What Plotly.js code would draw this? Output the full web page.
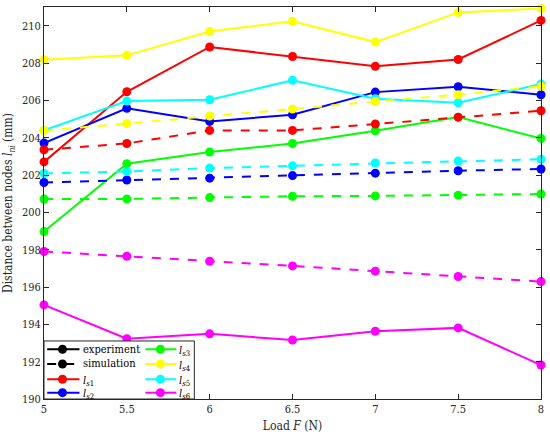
<!DOCTYPE html>
<html>
<head>
<meta charset="utf-8">
<script src="https://cdn.plot.ly/plotly-3.0.1.min.js"></script>
<style>html,body{margin:0;padding:0;background:#fff;}#chart{width:550px;height:438px;}</style>
</head>
<body>
<div id="chart"></div>
<script>
const loads = [5, 5.5, 6, 6.5, 7, 7.5, 8];

const expLs1 = [202.70, 206.46, 208.86, 208.35, 207.82, 208.19, 210.28];
const expLs2 = [203.71, 205.57, 204.87, 205.23, 206.44, 206.73, 206.30];
const expLs3 = [198.97, 202.60, 203.23, 203.69, 204.37, 205.10, 203.96];
const expLs4 = [208.18, 208.41, 209.69, 210.23, 209.12, 210.71, 210.92];
const expLs5 = [204.39, 205.96, 206.03, 207.07, 206.09, 205.87, 206.87];
const expLs6 = [195.04, 193.23, 193.49, 193.16, 193.63, 193.81, 191.82];

const simLs1 = [203.35, 203.69, 204.39, 204.39, 204.73, 205.10, 205.44];
const simLs2 = [201.60, 201.73, 201.83, 201.97, 202.10, 202.23, 202.32];
const simLs3 = [200.71, 200.72, 200.79, 200.86, 200.88, 200.92, 200.98];
const simLs4 = [204.39, 204.75, 205.16, 205.53, 205.94, 206.30, 206.75];
const simLs5 = [202.08, 202.19, 202.37, 202.49, 202.64, 202.75, 202.85];
const simLs6 = [197.90, 197.65, 197.38, 197.13, 196.85, 196.56, 196.29];

const seriesNames = ['<i>l</i><sub><i>s</i>1</sub>', '<i>l</i><sub><i>s</i>2</sub>', '<i>l</i><sub><i>s</i>3</sub>',
                     '<i>l</i><sub><i>s</i>4</sub>', '<i>l</i><sub><i>s</i>5</sub>', '<i>l</i><sub><i>s</i>6</sub>'];
const seriesColors = ['#ff0000', '#0000ff', '#00ff00', '#ffff00', '#00ffff', '#ff00ff'];
const expData = [expLs1, expLs2, expLs3, expLs4, expLs5, expLs6];
const simData = [simLs1, simLs2, simLs3, simLs4, simLs5, simLs6];

const yTicks = [190, 192, 194, 196, 198, 200, 202, 204, 206, 208, 210];
const xTicks = [5, 5.5, 6, 6.5, 7, 7.5, 8];
const xTickText = ['5', '5.5', '6', '6.5', '7', '7.5', '8'];

const legendLabels = ['experiment', 'simulation', seriesNames[0], seriesNames[1],
                      seriesNames[2], seriesNames[3], seriesNames[4], seriesNames[5]];
const legendColors = ['#000000', '#000000', seriesColors[0], seriesColors[1],
                      seriesColors[2], seriesColors[3], seriesColors[4], seriesColors[5]];
const legendDashes = ['solid', 'dash', 'solid', 'solid', 'solid', 'solid', 'solid', 'solid'];

const MS = 9, LW = 2;
const traces = [];
for (let i = 0; i < 6; i++) {
  traces.push({x: loads, y: expData[i], type: 'scatter', mode: 'lines+markers', name: seriesNames[i],
    line: {color: seriesColors[i], width: LW}, marker: {color: seriesColors[i], size: MS},
    cliponaxis: false, showlegend: false});
}
for (let i = 0; i < 6; i++) {
  traces.push({x: loads, y: simData[i], type: 'scatter', mode: 'lines+markers', name: seriesNames[i],
    line: {color: seriesColors[i], width: LW, dash: 'dash'}, marker: {color: seriesColors[i], size: MS},
    cliponaxis: false, showlegend: false});
}

const FONT = '"DejaVu Serif Condensed", "DejaVu Serif", serif';
const axisCommon = {
  showgrid: false, zeroline: false, showline: true, linecolor: '#262626', linewidth: 1,
  mirror: 'ticks', ticks: 'inside', ticklen: 5, tickcolor: '#262626',
  tickfont: {family: FONT, size: 11, color: '#262626'}
};

// custom legend (layout decoration) in paper coordinates
const plotW = 497.5, plotH = 392;
const rowY = [0.1268, 0.0893, 0.0503, 0.0161];
const colLineX0 = [0.0064, 0.204], colLineX1 = [0.0714, 0.2663], colMarkX = [0.0372, 0.2342], colTextX = [0.0768, 0.2704];
const rx = 4.5 / plotW, ry = 4.5 / plotH;
const shapes = [{type: 'rect', xref: 'paper', yref: 'paper', x0: 0, x1: 0.3025, y0: 0, y1: 0.148,
  fillcolor: '#fff', line: {color: '#262626', width: 1}, layer: 'above'}];
const annotations = [];
for (let k = 0; k < legendLabels.length; k++) {
  const c = k < 4 ? 0 : 1, r = k % 4;
  shapes.push({type: 'line', xref: 'paper', yref: 'paper', x0: colLineX0[c], x1: colLineX1[c], y0: rowY[r], y1: rowY[r],
    line: {color: legendColors[k], width: LW, dash: legendDashes[k]}, layer: 'above'});
  shapes.push({type: 'circle', xref: 'paper', yref: 'paper', x0: colMarkX[c] - rx, x1: colMarkX[c] + rx,
    y0: rowY[r] - ry, y1: rowY[r] + ry, fillcolor: legendColors[k], line: {width: 0}, layer: 'above'});
  annotations.push({xref: 'paper', yref: 'paper', x: colTextX[c], y: rowY[r] - (k >= 2 ? 0.004 : 0), xanchor: 'left', yanchor: 'middle',
    text: legendLabels[k], showarrow: false, font: {family: FONT, size: 11, color: '#000'}, borderpad: 0});
}

const layout = {
  width: 550, height: 438,
  margin: {l: 43.5, r: 9, t: 7, b: 39},
  paper_bgcolor: '#fff', plot_bgcolor: '#fff',
  font: {family: FONT, size: 12, color: '#000'},
  xaxis: Object.assign({}, axisCommon, {
    range: [5, 8], tickvals: xTicks, ticktext: xTickText,
    title: {text: 'Load <i>F</i> (N)', font: {family: FONT, size: 12, color: '#262626'}, standoff: 6}
  }),
  yaxis: Object.assign({}, axisCommon, {
    range: [190, 211], tickvals: yTicks,
    title: {text: 'Distance between nodes <i>l</i><sub><i>ni</i></sub> (mm)', font: {family: FONT, size: 12, color: '#262626'}, standoff: 6}
  }),
  shapes: shapes,
  annotations: annotations,
  showlegend: false
};

Plotly.newPlot('chart', traces, layout, {displayModeBar: false, staticPlot: true});
</script>
</body>
</html>
